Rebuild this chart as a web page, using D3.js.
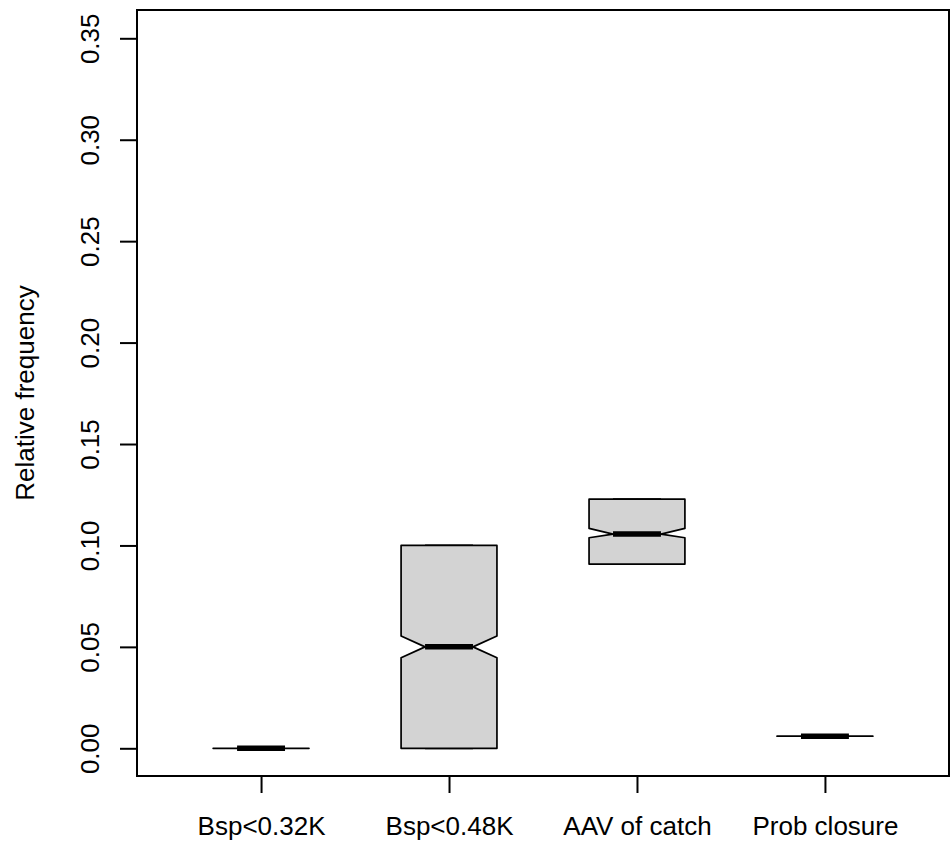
<!DOCTYPE html>
<html>
<head>
<meta charset="utf-8">
<script src="https://cdn.jsdelivr.net/npm/d3@7"></script>
<style>
  html, body { margin: 0; padding: 0; background: #ffffff; }
  svg { display: block; }
  text { font-family: "Liberation Sans", Arial, Helvetica, sans-serif; fill: #000; }
</style>
</head>
<body>
<svg id="chart" width="951" height="844"></svg>
<script>
// ---- data ----
const categories = ["Bsp<0.32K", "Bsp<0.48K", "AAV of catch", "Prob closure"];
const whiskerLow = [0, 0, 0.0908, 0.006];
const q1         = [0, 0, 0.0908, 0.006];
const medians    = [0, 0.05, 0.1056, 0.006];
const q3         = [0, 0.10, 0.1228, 0.006];
const whiskerHigh= [0, 0.10, 0.1228, 0.006];
const notchLow   = [0, 0.0446, 0.1038, 0.006];
const notchHigh  = [0, 0.0554, 0.1084, 0.006];
const yTicks     = [0, 0.05, 0.10, 0.15, 0.20, 0.25, 0.30, 0.35];
const yLabel = "Relative frequency";

// ---- layout ----
const plot = { left: 137, right: 949, top: 10, bottom: 776 };
const svg = d3.select("#chart");

const x = d3.scaleLinear()
  .domain([0.5 - 0.16, categories.length + 0.5 + 0.16])
  .range([plot.left, plot.right]);
const y = d3.scaleLinear()
  .domain([0, 0.35])
  .range([748.3, 38.3]);

const halfW = x(1.255) - x(1);   // box half width
const fontSize = 26;

// boxes
categories.forEach((c, i) => {
  const cx = x(i + 1);
  const g = svg.append("g");
  // whiskers (dashed) + staples
  g.append("line").attr("x1", cx).attr("x2", cx)
    .attr("y1", y(whiskerLow[i])).attr("y2", y(q1[i]))
    .attr("stroke", "#000").attr("stroke-width", 1.7).attr("stroke-dasharray", "6,6");
  g.append("line").attr("x1", cx).attr("x2", cx)
    .attr("y1", y(q3[i])).attr("y2", y(whiskerHigh[i]))
    .attr("stroke", "#000").attr("stroke-width", 1.7).attr("stroke-dasharray", "6,6");
  [whiskerLow[i], whiskerHigh[i]].forEach(v => {
    g.append("line").attr("x1", cx - halfW / 2).attr("x2", cx + halfW / 2)
      .attr("y1", y(v)).attr("y2", y(v))
      .attr("stroke", "#000").attr("stroke-width", 1.7);
  });
  // notched box polygon
  const pts = [
    [cx - halfW, y(q1[i])],
    [cx - halfW, y(notchLow[i])],
    [cx - halfW / 2, y(medians[i])],
    [cx - halfW, y(notchHigh[i])],
    [cx - halfW, y(q3[i])],
    [cx + halfW, y(q3[i])],
    [cx + halfW, y(notchHigh[i])],
    [cx + halfW / 2, y(medians[i])],
    [cx + halfW, y(notchLow[i])],
    [cx + halfW, y(q1[i])]
  ];
  g.append("path")
    .attr("d", d3.line()(pts) + "Z")
    .attr("fill", "#d3d3d3")
    .attr("stroke", "#000")
    .attr("stroke-width", 1.7)
    .attr("stroke-linejoin", "round");
  // median
  g.append("line").attr("x1", cx - halfW / 2).attr("x2", cx + halfW / 2)
    .attr("y1", y(medians[i])).attr("y2", y(medians[i]))
    .attr("stroke", "#000").attr("stroke-width", 5.5);
});

// frame
svg.append("rect")
  .attr("x", plot.left).attr("y", plot.top)
  .attr("width", plot.right - plot.left).attr("height", plot.bottom - plot.top)
  .attr("fill", "none").attr("stroke", "#000").attr("stroke-width", 2);

// y axis (axis line only spans first to last tick, as in R)
const yAxis = svg.append("g").attr("transform", `translate(${plot.left},0)`)
  .call(d3.axisLeft(y).tickValues(yTicks).tickSize(17).tickSizeOuter(0).tickFormat(d3.format(".2f")));
yAxis.select(".domain").remove();
yAxis.append("line")
  .attr("x1", 0).attr("x2", 0)
  .attr("y1", y(yTicks[0])).attr("y2", y(yTicks[yTicks.length - 1]))
  .attr("stroke", "#000").attr("stroke-width", 2);
yAxis.selectAll(".tick line").attr("stroke-width", 2);
yAxis.selectAll(".tick text").remove();
yAxis.selectAll(".tick").append("text")
  .attr("transform", "translate(-38,0) rotate(-90)")
  .attr("text-anchor", "middle")
  .attr("font-size", fontSize)
  .text(d => d3.format(".2f")(d));

// x axis
const xTicks = categories.map((c, i) => i + 1);
const xAxis = svg.append("g").attr("transform", `translate(0,${plot.bottom})`)
  .call(d3.axisBottom(x).tickValues(xTicks).tickSize(17).tickSizeOuter(0)
    .tickFormat((d) => categories[d - 1]));
xAxis.select(".domain").remove();
xAxis.append("line")
  .attr("x1", x(xTicks[0])).attr("x2", x(xTicks[xTicks.length - 1]))
  .attr("y1", 0).attr("y2", 0)
  .attr("stroke", "#000").attr("stroke-width", 2);
xAxis.selectAll(".tick line").attr("stroke-width", 2);
xAxis.selectAll(".tick text")
  .attr("font-size", fontSize)
  .attr("y", 59).attr("dy", 0)
  .attr("font-family", "Liberation Sans, Arial, sans-serif");

// y label
svg.append("text")
  .attr("transform", `translate(34,${(plot.top + plot.bottom) / 2}) rotate(-90)`)
  .attr("text-anchor", "middle")
  .attr("font-size", fontSize)
  .text(yLabel);
</script>
</body>
</html>
